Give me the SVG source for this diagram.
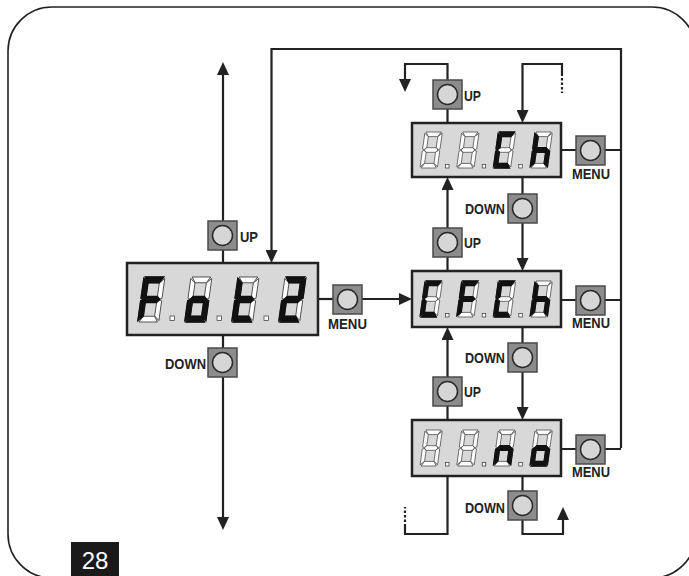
<svg xmlns="http://www.w3.org/2000/svg" xmlns:xlink="http://www.w3.org/1999/xlink" width="689" height="576" viewBox="0 0 689 576">
<style>
.frame{fill:none;stroke:#222;stroke-width:1.6}
.ln{fill:none;stroke:#222;stroke-width:2.2}
.dash{fill:none;stroke:#222;stroke-width:2.2;stroke-dasharray:2.5 2}
.disp{fill:#d8d8d8;stroke:#222;stroke-width:2.5}
.btn{fill:#8c8c8c;stroke:#4a4a4a;stroke-width:1.5}
.knob{fill:#d6d6d6;stroke:#2a2a2a;stroke-width:1.5}
.off{fill:#fff;stroke:#333;stroke-width:0.7}
.on{fill:#111;stroke:#111;stroke-width:1.3}
.dot{fill:#fff;stroke:#333;stroke-width:0.7}
.lbl{font-family:"Liberation Sans",Arial,sans-serif;font-weight:bold;font-size:14px;fill:#222}
.pg{font-family:"Liberation Sans",Arial,sans-serif;font-size:24px;fill:#fff}
</style>
<defs>
<marker id="ah" markerUnits="userSpaceOnUse" viewBox="0 0 13 12" markerWidth="13" markerHeight="12" refX="5" refY="6" orient="auto">
<path d="M0,0 L13,6 L0,12 Z" fill="#222"/>
</marker>
<polygon id="sa" points="1.2,0 18.8,0 15.4,4.6 4.6,4.6"/>
<polygon id="sb" points="20,1.2 20,17 18.2,17.6 15.4,15.8 15.4,4.8"/>
<polygon id="sc" points="20,19 18.2,18.4 15.4,20.2 15.4,31.2 20,34.8"/>
<polygon id="sd" points="1.2,36 18.8,36 15.4,31.4 4.6,31.4"/>
<polygon id="se" points="0,19 1.8,18.4 4.6,20.2 4.6,31.2 0,34.8"/>
<polygon id="sf" points="0,1.2 4.6,4.8 4.6,15.8 1.8,17.6 0,17"/>
<polygon id="sg" points="2.2,18 4.6,15.7 15.4,15.7 17.8,18 15.4,20.3 4.6,20.3"/>
<g id="g8" class="off"><use href="#sa"/><use href="#sb"/><use href="#sc"/><use href="#sd"/><use href="#se"/><use href="#sf"/><use href="#sg"/></g>
<g id="cF"><use href="#g8"/><g class="on"><use href="#sa"/><use href="#sf"/><use href="#sg"/><use href="#se"/></g></g>
<g id="co"><use href="#g8"/><g class="on"><use href="#sg"/><use href="#se"/><use href="#sc"/><use href="#sd"/></g></g>
<g id="ct"><use href="#g8"/><g class="on"><use href="#sf"/><use href="#sg"/><use href="#se"/><use href="#sd"/></g></g>
<g id="c2"><use href="#g8"/><g class="on"><use href="#sa"/><use href="#sb"/><use href="#sg"/><use href="#se"/><use href="#sd"/></g></g>
<g id="cC"><use href="#g8"/><g class="on"><use href="#sa"/><use href="#sf"/><use href="#se"/><use href="#sd"/></g></g>
<g id="ch"><use href="#g8"/><g class="on"><use href="#sf"/><use href="#sg"/><use href="#se"/><use href="#sc"/></g></g>
<g id="cn"><use href="#g8"/><g class="on"><use href="#sg"/><use href="#se"/><use href="#sc"/></g></g>
<g id="button"><rect class="btn" x="0" y="0" width="29" height="29"/><circle class="knob" cx="14.5" cy="14.5" r="10"/></g>
</defs>

<rect class="frame" x="8" y="7" width="688" height="571" rx="44" ry="44"/>

<g id="connectors">
<path class="ln" d="M223,263 V70" marker-end="url(#ah)"/>
<path class="ln" d="M223,335 V522" marker-end="url(#ah)"/>
<path class="ln" d="M318,299 H333"/>
<path class="ln" d="M362,299 H404" marker-end="url(#ah)"/>
<path class="ln" d="M621,448 V49 H271.5 V255" marker-end="url(#ah)"/>
<path class="ln" d="M561,150 H576 M605,150 H621"/>
<path class="ln" d="M561,300 H576 M605,300 H621"/>
<path class="ln" d="M561,449 H576 M605,449 H621"/>
<path class="ln" d="M447.5,123 V64 H405 V84" marker-end="url(#ah)"/>
<path class="ln" d="M562,76 V64 H522.5 V115" marker-end="url(#ah)"/>
<path class="dash" d="M562,78 V93"/>
<path class="ln" d="M447.5,271 V185" marker-end="url(#ah)"/>
<path class="ln" d="M522.5,177 V263" marker-end="url(#ah)"/>
<path class="ln" d="M447.5,420 V335" marker-end="url(#ah)"/>
<path class="ln" d="M522.5,327 V412" marker-end="url(#ah)"/>
<path class="ln" d="M447.5,476 V534 H405 V524"/>
<path class="dash" d="M405,522 V507"/>
<path class="ln" d="M522.5,476 V534 H563 V515" marker-end="url(#ah)"/>
</g>

<g id="display-left">
<rect class="disp" x="127" y="263" width="191" height="72"/>
<use href="#cF" transform="translate(144,277) skewX(-8) scale(1.05,1.25)"/>
<use href="#co" transform="translate(191,277) skewX(-8) scale(1.05,1.25)"/>
<use href="#ct" transform="translate(238,277) skewX(-8) scale(1.05,1.25)"/>
<use href="#c2" transform="translate(285,277) skewX(-8) scale(1.05,1.25)"/>
<rect class="dot" x="170" y="316" width="4.5" height="4.5"/>
<rect class="dot" x="217" y="316" width="4.5" height="4.5"/>
<rect class="dot" x="264" y="316" width="4.5" height="4.5"/>
</g>

<g id="display-top">
<rect class="disp" x="412" y="123" width="149" height="54"/>
<use href="#g8" transform="translate(425,132) skewX(-8) scale(0.87,1)"/>
<use href="#g8" transform="translate(461.7,132) skewX(-8) scale(0.87,1)"/>
<use href="#cC" transform="translate(498.3,132) skewX(-8) scale(0.87,1)"/>
<use href="#ch" transform="translate(535,132) skewX(-8) scale(0.87,1)"/>
<rect class="dot" x="445.5" y="164.5" width="3.5" height="3.5"/>
<rect class="dot" x="482.2" y="164.5" width="3.5" height="3.5"/>
<rect class="dot" x="518.8" y="164.5" width="3.5" height="3.5"/>
</g>

<g id="display-middle">
<rect class="disp" x="412" y="271" width="149" height="56"/>
<use href="#cC" transform="translate(425,281) skewX(-8) scale(0.87,1)"/>
<use href="#cF" transform="translate(461.7,281) skewX(-8) scale(0.87,1)"/>
<use href="#cC" transform="translate(498.3,281) skewX(-8) scale(0.87,1)"/>
<use href="#ch" transform="translate(535,281) skewX(-8) scale(0.87,1)"/>
<rect class="dot" x="445.5" y="313.5" width="3.5" height="3.5"/>
<rect class="dot" x="482.2" y="313.5" width="3.5" height="3.5"/>
<rect class="dot" x="518.8" y="313.5" width="3.5" height="3.5"/>
</g>

<g id="display-bottom">
<rect class="disp" x="412" y="420" width="149" height="56"/>
<use href="#g8" transform="translate(425,430) skewX(-8) scale(0.87,1)"/>
<use href="#g8" transform="translate(461.7,430) skewX(-8) scale(0.87,1)"/>
<use href="#cn" transform="translate(498.3,430) skewX(-8) scale(0.87,1)"/>
<use href="#co" transform="translate(535,430) skewX(-8) scale(0.87,1)"/>
<rect class="dot" x="445.5" y="462.5" width="3.5" height="3.5"/>
<rect class="dot" x="482.2" y="462.5" width="3.5" height="3.5"/>
<rect class="dot" x="518.8" y="462.5" width="3.5" height="3.5"/>
</g>

<g id="btn-left-up"><use href="#button" x="208" y="221"/><text class="lbl" x="240" y="242" textLength="18" lengthAdjust="spacingAndGlyphs">UP</text></g>
<g id="btn-left-down"><use href="#button" x="208" y="348"/><text class="lbl" x="165" y="369" textLength="41" lengthAdjust="spacingAndGlyphs">DOWN</text></g>
<g id="btn-left-menu"><use href="#button" x="333" y="285"/><text class="lbl" x="328" y="329" textLength="39" lengthAdjust="spacingAndGlyphs">MENU</text></g>

<g id="btn-top-up"><use href="#button" x="433" y="80"/><text class="lbl" x="464" y="101" textLength="17" lengthAdjust="spacingAndGlyphs">UP</text></g>
<g id="btn-top-menu"><use href="#button" x="576" y="136"/><text class="lbl" x="572" y="179" textLength="38" lengthAdjust="spacingAndGlyphs">MENU</text></g>

<g id="btn-mid-down"><use href="#button" x="508" y="194"/><text class="lbl" x="465" y="214" textLength="40" lengthAdjust="spacingAndGlyphs">DOWN</text></g>
<g id="btn-mid-up"><use href="#button" x="433" y="228"/><text class="lbl" x="464" y="248" textLength="17" lengthAdjust="spacingAndGlyphs">UP</text></g>
<g id="btn-mid-menu"><use href="#button" x="576" y="286"/><text class="lbl" x="572" y="328" textLength="38" lengthAdjust="spacingAndGlyphs">MENU</text></g>

<g id="btn-bot-down1"><use href="#button" x="508" y="343"/><text class="lbl" x="465" y="363" textLength="40" lengthAdjust="spacingAndGlyphs">DOWN</text></g>
<g id="btn-bot-up"><use href="#button" x="433" y="377"/><text class="lbl" x="464" y="397" textLength="17" lengthAdjust="spacingAndGlyphs">UP</text></g>
<g id="btn-bot-menu"><use href="#button" x="576" y="435"/><text class="lbl" x="572" y="477" textLength="38" lengthAdjust="spacingAndGlyphs">MENU</text></g>
<g id="btn-bot-down2"><use href="#button" x="508" y="491"/><text class="lbl" x="465" y="513" textLength="40" lengthAdjust="spacingAndGlyphs">DOWN</text></g>

<g id="page-number">
<rect x="71" y="542" width="48" height="40" fill="#1a1a1a"/>
<text class="pg" x="95" y="569" text-anchor="middle">28</text>
</g>
</svg>
